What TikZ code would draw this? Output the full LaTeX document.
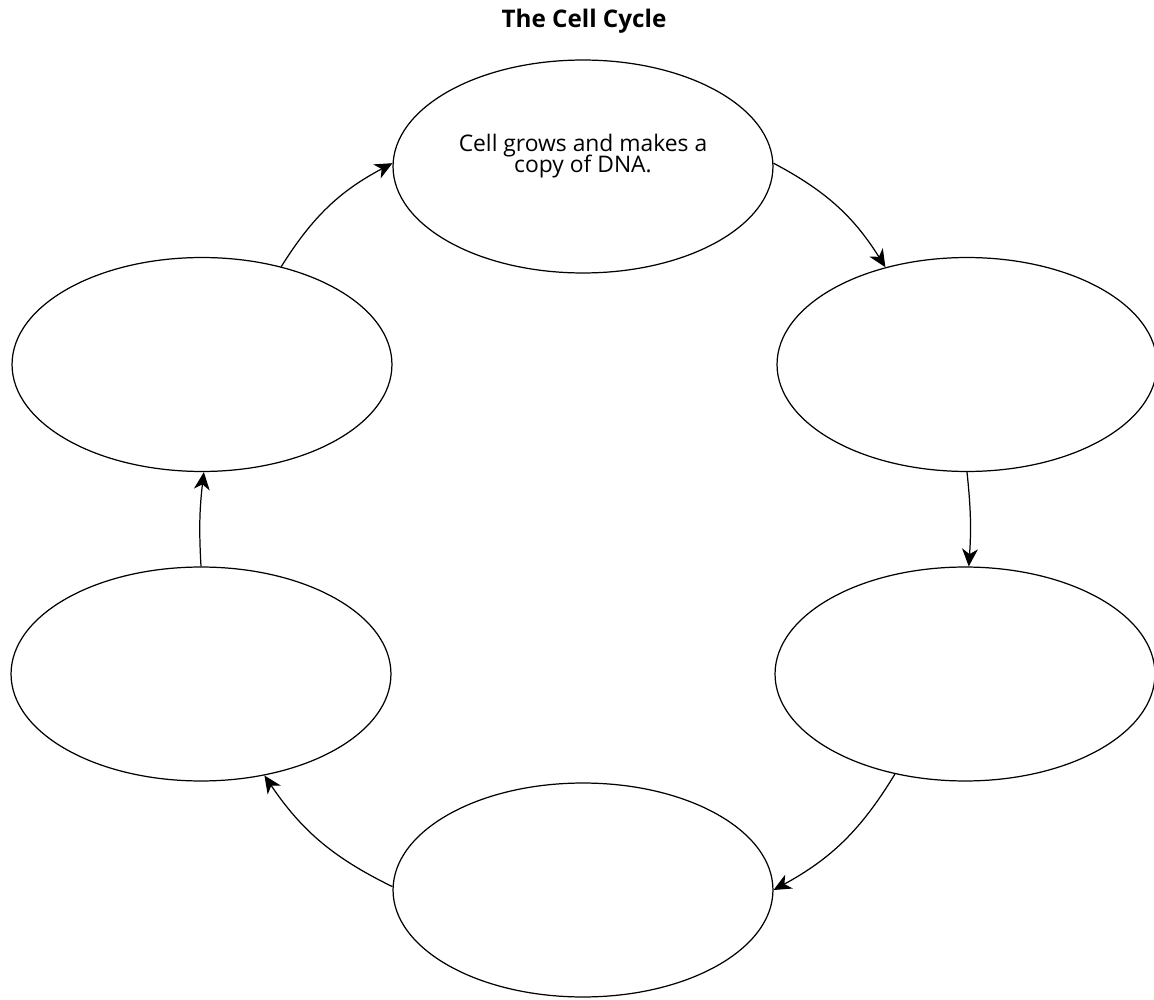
\documentclass[tikz,border=0pt]{standalone}
\usepackage{fontspec}
\setmainfont{Open Sans}
\usetikzlibrary{shapes.geometric,arrows.meta}
\setlength{\lineskiplimit}{-20pt}

\begin{document}
\begin{tikzpicture}[x=0.02cm,y=-0.02cm,
  phase/.style={draw,ellipse,line width=0.7pt,inner sep=0pt,minimum width=7.6cm,minimum height=4.28cm},
  flow/.style={-{Stealth[length=10pt,width=9pt,inset=3pt]},line width=0.7pt}]
\useasboundingbox (0,0) rectangle (1154,1000);

\node[anchor=base,font=\bfseries\fontsize{13.8}{16}\selectfont] (title) at (584,28) {The Cell Cycle};

% the six phases, clockwise from the top
\node[phase,minimum height=4.26cm] (p1) at (583,166.5) {};
\node[phase] (p2) at (967,364.5) {};
\node[phase] (p3) at (965,674) {};
\node[phase] (p4) at (583,890) {};
\node[phase] (p5) at (201,674) {};
\node[phase] (p6) at (202,364.5) {};

\node[align=center,inner sep=0pt,font=\fontsize{13}{12.3}\selectfont] (p1txt) at (583,156) {Cell grows and makes a\\copy of DNA.};

\draw[flow] (p1.1) to[bend left=15] (p2.130);
\draw[flow] (p2.-90) to[bend left=5] (p3.88);
\draw[flow] (p3.235) to[bend left=15] (p4.0);
\draw[flow] (p4.179) to[bend left=15] (p5.302);
\draw[flow] (p5.90) to[bend left=5] (p6.-89);
\draw[flow] (p6.51) to[bend left=15] (p1.179);
\end{tikzpicture}
\end{document}
